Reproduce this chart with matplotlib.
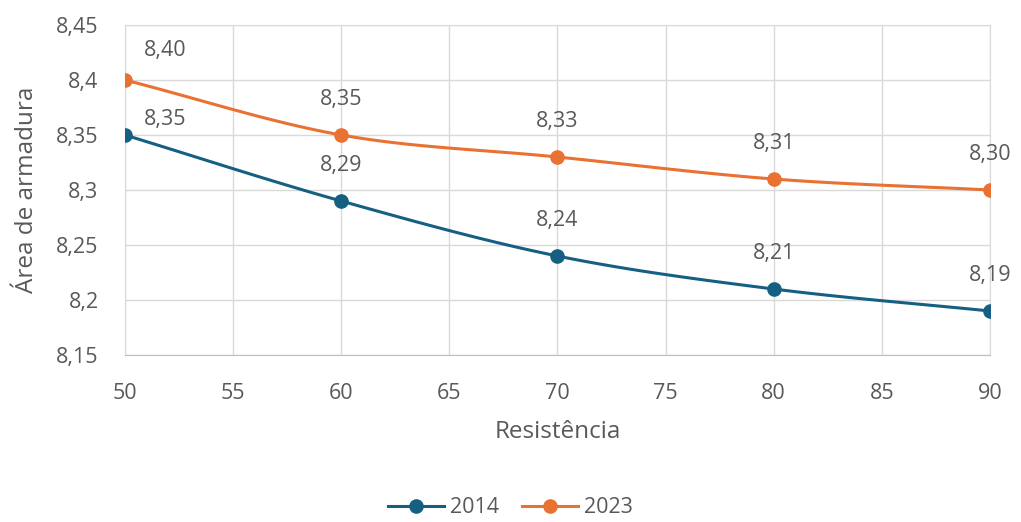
import numpy as np
import matplotlib.pyplot as plt

plt.rcParams['font.family'] = ['Open Sans', 'DejaVu Sans']

# dados
resistencia = [50, 60, 70, 80, 90]
area_2014 = [8.35, 8.29, 8.24, 8.21, 8.19]
area_2023 = [8.40, 8.35, 8.33, 8.31, 8.30]
rotulos_2014 = ["8,35", "8,29", "8,24", "8,21", "8,19"]
rotulos_2023 = ["8,40", "8,35", "8,33", "8,31", "8,30"]

cor_2014 = "#156082"
cor_2023 = "#E97132"
cinza_texto = "#595959"
cinza_grade = "#D9D9D9"


def suavizar(x, y, passos=30):
    """Curva Catmull-Rom passando pelos pontos (linha suavizada)."""
    x = np.asarray(x, float)
    y = np.asarray(y, float)
    px = np.concatenate([[2 * x[0] - x[1]], x, [2 * x[-1] - x[-2]]])
    py = np.concatenate([[2 * y[0] - y[1]], y, [2 * y[-1] - y[-2]]])
    xs, ys = [], []
    t = np.linspace(0, 1, passos)
    for i in range(1, len(px) - 2):
        for p, out in ((px, xs), (py, ys)):
            p0, p1, p2, p3 = p[i - 1], p[i], p[i + 1], p[i + 2]
            out.extend(0.5 * ((2 * p1) + (-p0 + p2) * t
                              + (2 * p0 - 5 * p1 + 4 * p2 - p3) * t ** 2
                              + (-p0 + 3 * p1 - 3 * p2 + p3) * t ** 3))
    return np.array(xs), np.array(ys)


fig = plt.figure(figsize=(10.21, 5.22), dpi=100)
ax = fig.add_axes([0.1224, 0.3199, 0.8472, 0.6322])

for y, cor, nome in ((area_2014, cor_2014, "2014"), (area_2023, cor_2023, "2023")):
    xs, ys = suavizar(resistencia, y)
    ax.plot(xs, ys, color=cor, linewidth=2.2, zorder=3)
    ax.plot(resistencia, y, 'o', color=cor, markersize=9.5, zorder=4)
    # entrada da legenda
    ax.plot([], [], '-o', color=cor, linewidth=2.2, markersize=9.5, label=nome)

# rótulos de dados (os do primeiro ponto ficam deslocados à direita)
for serie, rotulos in ((area_2014, rotulos_2014), (area_2023, rotulos_2023)):
    for i, (xv, yv, txt) in enumerate(zip(resistencia, serie, rotulos)):
        if i == 0:
            dx, dy = 40, (30 if serie is area_2023 else 16)
        else:
            dx, dy = 0, 36
        ax.annotate(txt, (xv, yv), xytext=(dx, dy), textcoords='offset pixels',
                    ha='center', va='center', fontsize=15.5, color=cinza_texto,
                    zorder=5)

ax.set_xlim(50, 90)
ax.set_ylim(8.15, 8.45)
ax.set_xticks(np.arange(50, 91, 5))
ax.set_yticks([8.15, 8.2, 8.25, 8.3, 8.35, 8.4, 8.45])
ax.set_yticklabels(["8,15", "8,2", "8,25", "8,3", "8,35", "8,4", "8,45"])
ax.grid(True, color=cinza_grade, linewidth=1)
ax.set_axisbelow(True)
for s in ax.spines.values():
    s.set_color(cinza_grade)
ax.spines['bottom'].set_color("#BFBFBF")
ax.tick_params(length=0, labelsize=15.5, colors=cinza_texto)
ax.tick_params(axis='x', pad=20)
ax.tick_params(axis='y', pad=19)

ax.set_xlabel("Resistência", fontsize=17.5, color=cinza_texto, labelpad=12)
ax.set_ylabel("Área de armadura", fontsize=17.5, color=cinza_texto, labelpad=12)

fig.legend(loc='lower center', bbox_to_anchor=(0.5, -0.03), ncol=2,
           frameon=False, fontsize=15.5, labelcolor=cinza_texto,
           handlelength=2.6, columnspacing=1.1, handletextpad=0.25)

fig.savefig("out.png", dpi=100)
